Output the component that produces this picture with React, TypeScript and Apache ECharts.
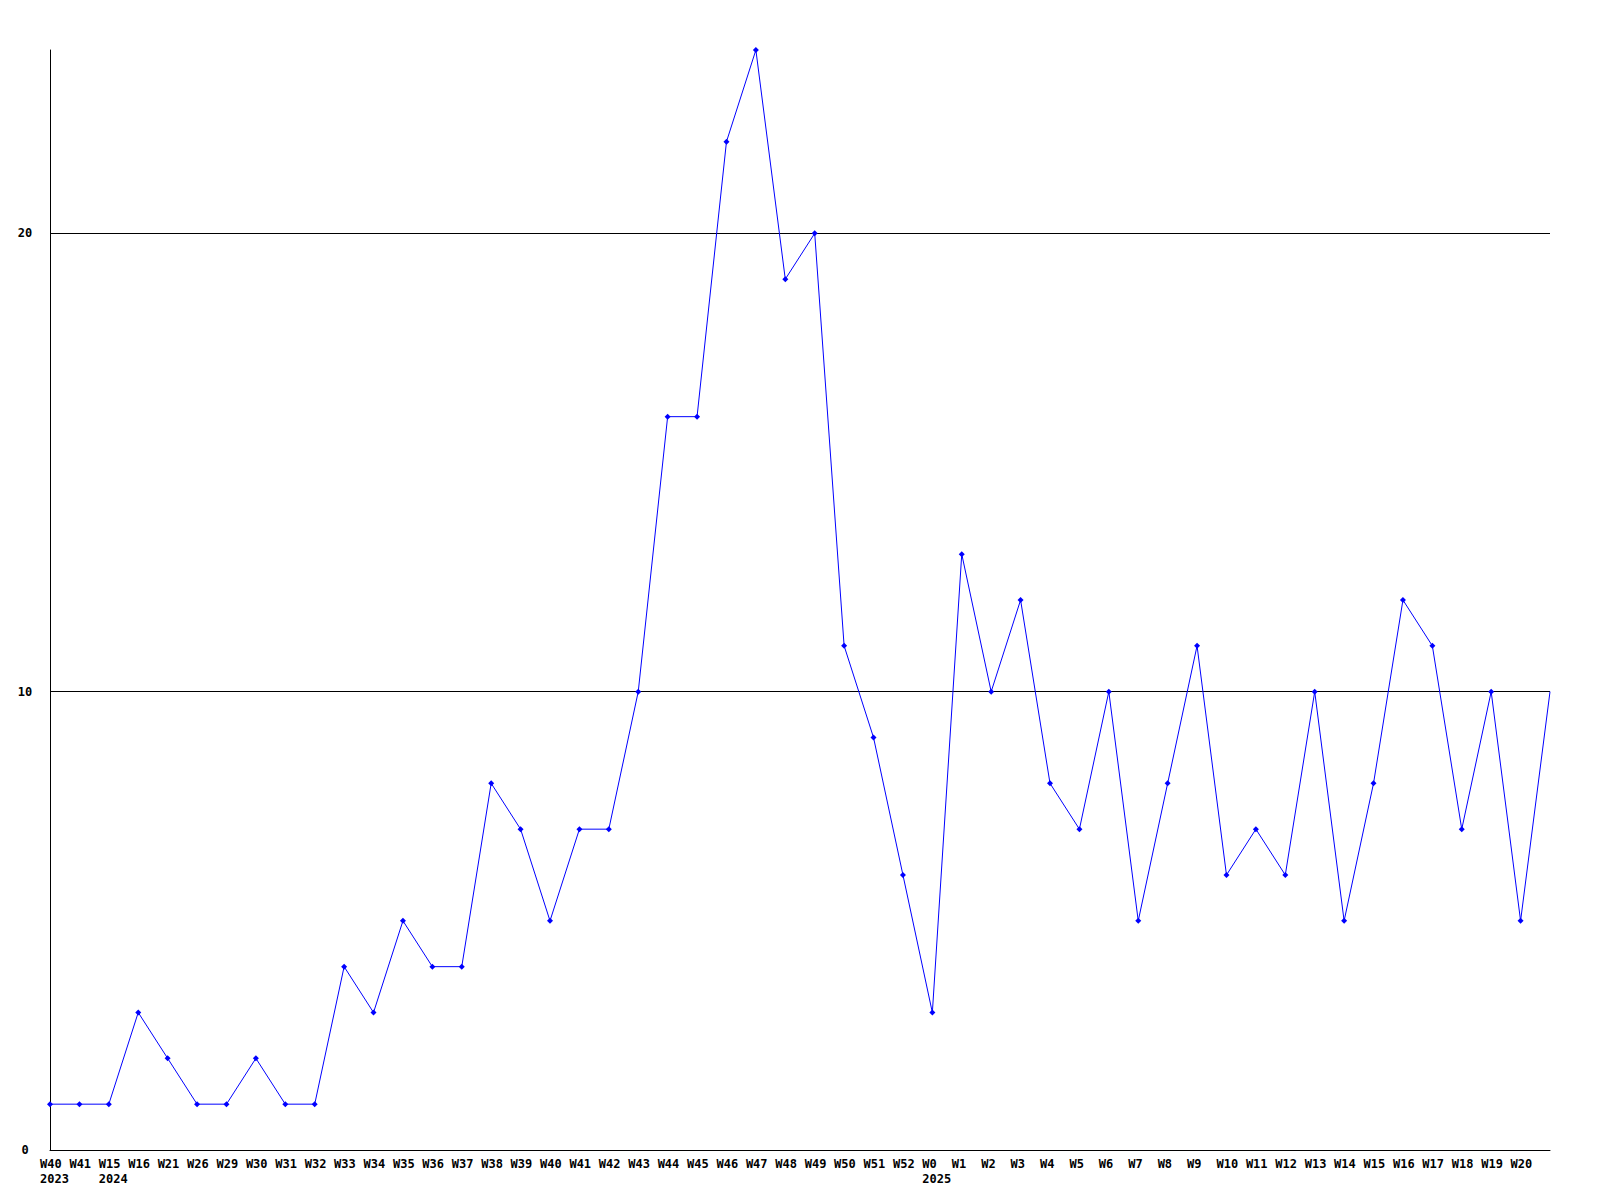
import React, { useEffect, useRef } from "react";
import * as echarts from "echarts";

const weeks = [
  "W40", "W41",
  "W15", "W16", "W21", "W26", "W29", "W30", "W31", "W32", "W33", "W34", "W35", "W36", "W37", "W38", "W39", "W40", "W41", "W42", "W43", "W44", "W45", "W46", "W47", "W48", "W49", "W50", "W51", "W52",
  "W0", "W1", "W2", "W3", "W4", "W5", "W6", "W7", "W8", "W9", "W10", "W11", "W12", "W13", "W14", "W15", "W16", "W17", "W18", "W19", "W20",
  "",
];
const years = [
  "2023", "",
  "2024", "", "", "", "", "", "", "", "", "", "", "", "", "", "", "", "", "", "", "", "", "", "", "", "", "", "", "",
  "2025", "", "", "", "", "", "", "", "", "", "", "", "", "", "", "", "", "", "", "", "",
  "",
];
const counts = [
  1, 1,
  1, 3, 2, 1, 1, 2, 1, 1, 4, 3, 5, 4, 4, 8, 7, 5, 7, 7, 10, 16, 16, 22, 24, 19, 20, 11, 9, 6,
  3, 13, 10, 12, 8, 7, 10, 5, 8, 11, 6, 7, 6, 10, 5, 8, 12, 11, 7, 10, 5,
  10,
];
const yTicks = [0, 10, 20];
const gridValues = [10, 20];

export default function App() {
  const ref = useRef<HTMLDivElement>(null);
  useEffect(() => {
    if (!ref.current) return;
    const chart = echarts.init(ref.current, null, { renderer: "svg" });
    const font = "DejaVu Sans Mono";
    const lastIdx = counts.length - 1;
    chart.setOption({
      animation: false,
      backgroundColor: "#ffffff",
      grid: { left: 50, right: 50, top: 50, bottom: 50, containLabel: false },
      xAxis: {
        type: "category",
        boundaryGap: false,
        data: weeks.map((w, i) => `${i}`),
        axisLine: { show: true, lineStyle: { color: "#000", width: 1 } },
        axisTick: { show: false },
        splitLine: { show: false },
        axisLabel: {
          interval: 0,
          hideOverlap: false,
          align: "left",
          verticalAlign: "top",
          margin: 6,
          padding: [0, 0, 0, -10],
          color: "#000",
          fontFamily: font,
          fontWeight: "bold",
          fontSize: 12,
          lineHeight: 15,
          formatter: (_v: string, i: number) =>
            years[i] ? `${weeks[i]}\n${years[i]}` : weeks[i],
        },
      },
      yAxis: {
        type: "value",
        min: 0,
        max: 24,
        interval: 10,
        axisLine: { show: true, lineStyle: { color: "#000", width: 1 } },
        axisTick: { show: false },
        splitLine: { show: false },
        axisLabel: {
          align: "center",
          margin: 25,
          color: "#000",
          fontFamily: font,
          fontWeight: "bold",
          fontSize: 12,
          formatter: (v: number) => (yTicks.includes(v) ? String(v) : ""),
        },
      },
      series: [
        {
          type: "line",
          data: counts.map((v, i) =>
            i === lastIdx ? { value: v, symbol: "none" } : v
          ),
          symbol: "diamond",
          symbolSize: 6,
          showAllSymbol: true,
          lineStyle: { color: "#0000ff", width: 1 },
          itemStyle: { color: "#0000ff" },
          z: 3,
          markLine: {
            silent: true,
            symbol: "none",
            label: { show: false },
            lineStyle: { color: "#000", width: 1, type: "solid" },
            data: gridValues.map((g) => ({ yAxis: g })),
            z: 1,
          },
        },
      ],
    });
    return () => chart.dispose();
  }, []);
  return (
    <div
      ref={ref}
      style={{ position: "absolute", left: 0, top: 0, width: 1600, height: 1200 }}
    />
  );
}
